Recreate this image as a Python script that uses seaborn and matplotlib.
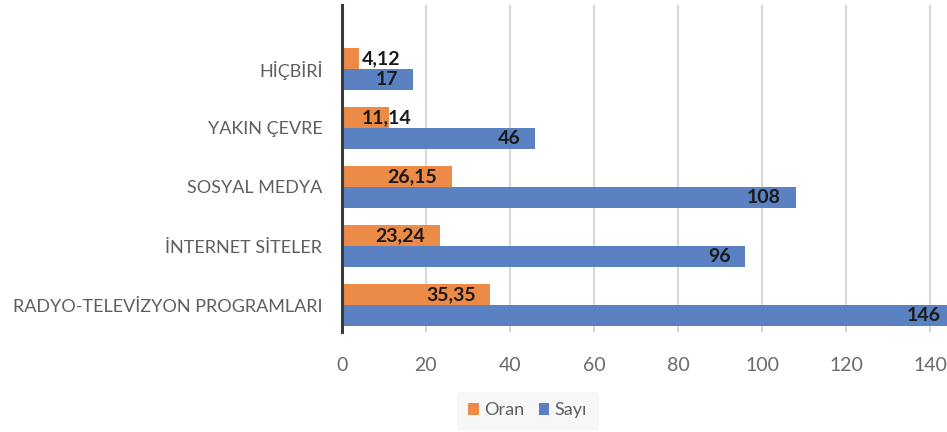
import pandas as pd
import matplotlib.pyplot as plt
import seaborn as sns

categories = ['HİÇBİRİ', 'YAKIN ÇEVRE', 'SOSYAL MEDYA', 'İNTERNET SİTELER',
              'RADYO-TELEVİZYON PROGRAMLARI']
oran = [4.12, 11.14, 26.15, 23.24, 35.35]
sayi = [17, 46, 108, 96, 146]
series = ['Oran', 'Sayı']
colors = ['#EC8A48', '#5A81C2']
x_ticks = [0, 20, 40, 60, 80, 100, 120, 140]

df = pd.DataFrame({
    'kategori': categories * 2,
    'deger': oran + sayi,
    'seri': ['Oran'] * len(oran) + ['Sayı'] * len(sayi),
})

sns.set_theme(style='white')
plt.rcParams['font.family'] = ['Lato', 'DejaVu Sans']

fig = plt.figure(figsize=(9.47, 4.32), dpi=100)
ax = fig.add_axes([0.361, 0.231, 0.639, 0.757])

sns.barplot(data=df, y='kategori', x='deger', hue='seri', hue_order=series,
            order=categories, palette=colors, saturation=1, orient='h', width=0.71,
            linewidth=0, ax=ax, legend=True)

ax.set_xlim(0, 144)
ax.set_ylim(4.46, -1.08)
ax.set_xticks(x_ticks)
ax.set_xlabel('')
ax.set_ylabel('')
ax.grid(axis='x', color='#d0d0d0', linewidth=1.2)
ax.set_axisbelow(True)
ax.tick_params(axis='x', length=7, width=1.2, color='#d0d0d0', direction='out',
               labelsize=14, labelcolor='#6a6a6a', pad=11)
ax.tick_params(axis='y', length=0, labelsize=13, labelcolor='#5f5f5f', pad=14)
for side in ['top', 'right', 'bottom']:
    ax.spines[side].set_visible(False)
ax.spines['left'].set_color('#3a3a3a')
ax.spines['left'].set_linewidth(2.2)

# value labels
label_sets = [[f'{v:.2f}'.replace('.', ',') for v in oran], [str(v) for v in sayi]]
for container, labels in zip(ax.containers, label_sets):
    for bar, text in zip(container, labels):
        w = bar.get_width()
        yc = bar.get_y() + bar.get_height() / 2
        if w < 15:
            ax.text(4.7, yc, text, ha='left', va='center', fontsize=14,
                    fontweight='bold', color='#1a1a1a')
        else:
            ax.text(w - 3.5, yc, text, ha='right', va='center', fontsize=14,
                    fontweight='bold', color='#1a1a1a')

leg = ax.legend(loc='center', bbox_to_anchor=(0.557, 0.05), bbox_transform=fig.transFigure,
                ncol=2, frameon=True, fontsize=13, handlelength=0.6, handleheight=0.6,
                handletextpad=0.3, columnspacing=0.8, borderpad=0.6)
leg.get_frame().set_facecolor('#f6f6f6')
leg.get_frame().set_edgecolor('#f6f6f6')
for t in leg.get_texts():
    t.set_color('#5f5f5f')

plt.savefig('out.png', dpi=100)
